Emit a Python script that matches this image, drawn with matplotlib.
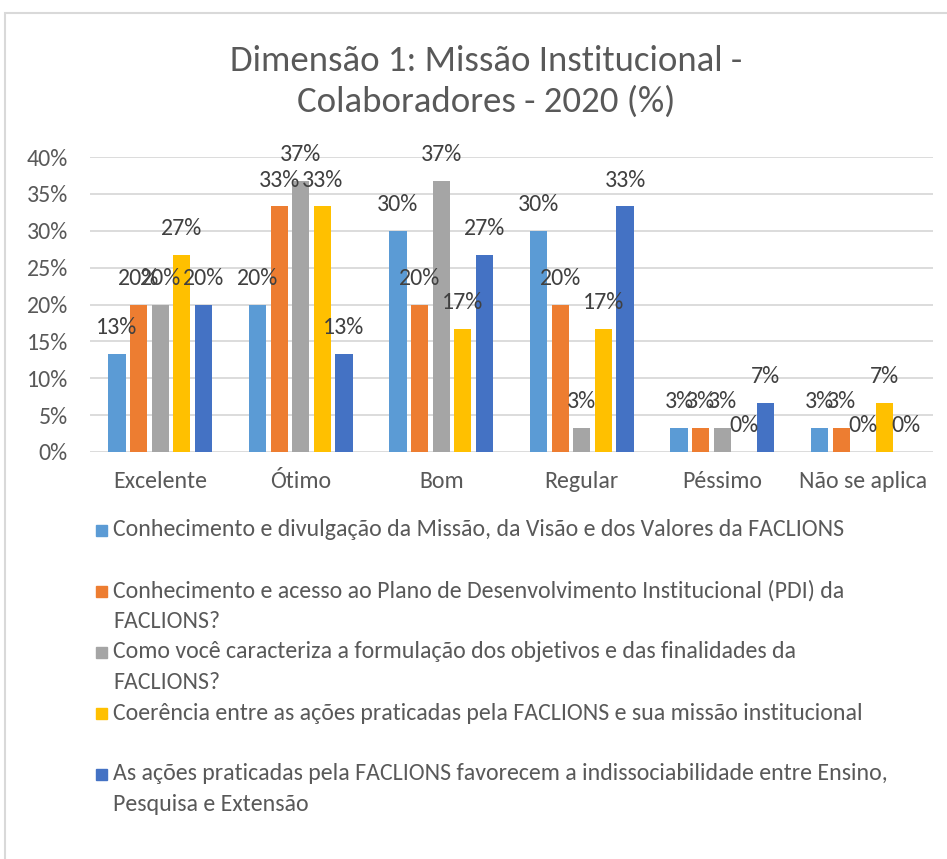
import matplotlib
matplotlib.use('Agg')
import matplotlib.pyplot as plt
from matplotlib import font_manager
from matplotlib.patches import Rectangle
import numpy as np

# Pick a Calibri-like font if one is installed
names = {f.name for f in font_manager.fontManager.ttflist}
if 'Carlito' in names:
    FONT, SCALE = 'Carlito', 1.0
elif 'Liberation Sans Narrow' in names:
    FONT, SCALE = 'Liberation Sans Narrow', 0.95
else:
    FONT, SCALE = 'Lato', 0.90
plt.rcParams['font.family'] = [FONT, 'DejaVu Sans']

# ============================================================
# Data
# ============================================================
categories = ["Excelente", "Ótimo", "Bom", "Regular", "Péssimo", "Não se aplica"]
series_labels = [
    "Conhecimento e divulgação da Missão, da Visão e dos Valores da FACLIONS",
    "Conhecimento e acesso ao Plano de Desenvolvimento Institucional (PDI) da\nFACLIONS?",
    "Como você caracteriza a formulação dos objetivos e das finalidades da\nFACLIONS?",
    "Coerência entre as ações praticadas pela FACLIONS e sua missão institucional",
    "As ações praticadas pela FACLIONS favorecem a indissociabilidade entre Ensino,\nPesquisa e Extensão",
]
missao_visao = [13.3, 20.0, 30.0, 30.0, 3.3, 3.3]
pdi = [20.0, 33.3, 20.0, 20.0, 3.3, 3.3]
objetivos = [20.0, 36.7, 36.7, 3.3, 3.3, 0.0]
coerencia = [26.7, 33.3, 16.7, 16.7, 0.0, 6.7]
indissociabilidade = [20.0, 13.3, 26.7, 33.3, 6.7, 0.0]
series = [missao_visao, pdi, objetivos, coerencia, indissociabilidade]
colors = ['#5B9BD5', '#ED7D31', '#A5A5A5', '#FFC000', '#4472C4']
title = "Dimensão 1: Missão Institucional -\nColaboradores - 2020 (%)"

TEXT = '#595959'
W, H = 947, 859
fig = plt.figure(figsize=(W / 100, H / 100), dpi=100)
ax = fig.add_axes([90 / W, 1 - 452 / H, (933 - 90) / W, (452 - 157) / H])

x = np.arange(len(categories))
step = 0.154
width = 0.122
fs = 17.2 * SCALE
for i, vals in enumerate(series):
    vals = np.array(vals) / 100
    bars = ax.bar(x + (i - 2) * step, vals, width, color=colors[i], zorder=3)
    for bar in bars:
        h = bar.get_height()
        ax.annotate(f'{h:.0%}', (bar.get_x() + bar.get_width() / 2, h),
                    xytext=(0, 19), textcoords='offset points',
                    ha='center', va='center', fontsize=fs, color='#404040',
                    zorder=5)

ax.set_xlim(-0.5, len(categories) - 0.5)
ax.set_ylim(0, 0.40)
ax.set_yticks(np.arange(0, 0.41, 0.05))
ax.set_yticklabels([f'{v:.0%}' for v in np.arange(0, 0.41, 0.05)])
ax.set_xticks(x)
ax.set_xticklabels(categories)
ax.tick_params(axis='both', length=0, labelsize=fs, labelcolor=TEXT)
ax.tick_params(axis='x', pad=13.5)
ax.tick_params(axis='y', pad=16)
ax.grid(axis='y', color='#D9D9D9', linewidth=1.3, zorder=0)
for s in ax.spines.values():
    s.set_visible(False)

# Chart title
fig.text(486 / W, 1 - 81.5 / H, title, ha='center', va='center',
         fontsize=26.5 * SCALE, color=TEXT, linespacing=1.3)

# Legend: each entry gets a two-line slot, text top-aligned
row_h = 30.5
y0 = 530
for i, (lab, c) in enumerate(zip(series_labels, colors)):
    yc = y0 + i * 2 * row_h
    fig.patches.append(Rectangle((96 / W, 1 - (yc + 5.5) / H), 11 / W, 11 / H,
                                 transform=fig.transFigure, color=c))
    for j, line in enumerate(lab.split('\n')):
        fig.text(113 / W, 1 - (yc + j * row_h) / H, line, ha='left', va='center',
                 fontsize=fs, color=TEXT)

# Chart area border
fig.patches.append(Rectangle((5 / W, -0.1), 1.2, 1 - 13 / H + 0.1,
                             transform=fig.transFigure, fill=False,
                             edgecolor='#D9D9D9', linewidth=1.5))

plt.savefig('out.png', dpi=100)
plt.close()
